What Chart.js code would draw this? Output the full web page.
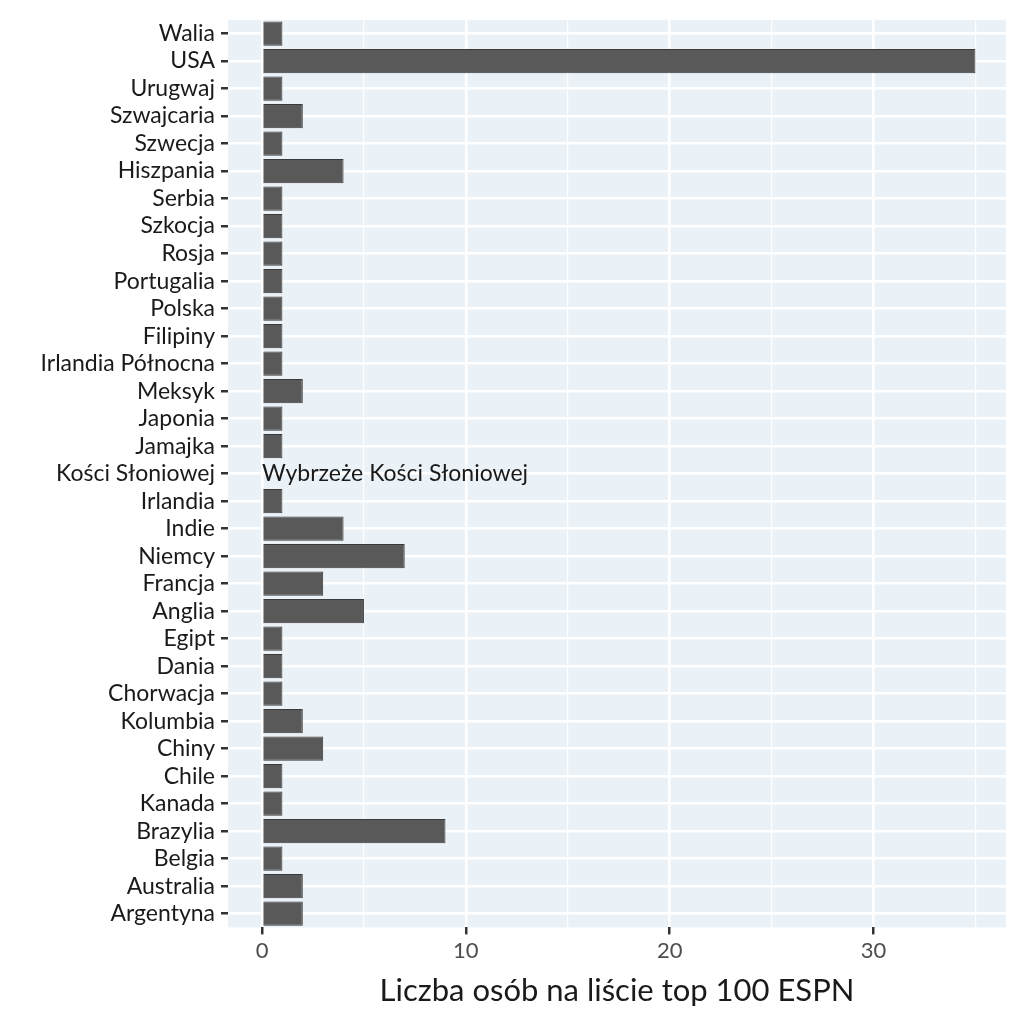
<!DOCTYPE html>
<html>
<head>
<meta charset="utf-8">
<script src="https://cdn.jsdelivr.net/npm/chart.js@4"></script>
<style>
  html, body { margin: 0; padding: 0; background: #fff; }
  #wrap { width: 1024px; height: 1024px; }
</style>
</head>
<body>
<div id="wrap"><canvas id="c"></canvas></div>
<script>
// Countries, top row first
const countries = ['Walia','USA','Urugwaj','Szwajcaria','Szwecja','Hiszpania','Serbia','Szkocja','Rosja','Portugalia','Polska','Filipiny','Irlandia Północna','Meksyk','Japonia','Jamajka','Kości Słoniowej','Irlandia','Indie','Niemcy','Francja','Anglia','Egipt','Dania','Chorwacja','Kolumbia','Chiny','Chile','Kanada','Brazylia','Belgia','Australia','Argentyna'];
const counts = [1,35,1,2,1,4,1,1,1,1,1,1,1,2,1,1,0,1,4,7,3,5,1,1,1,2,3,1,1,9,1,2,2];
const xTicks = [0,5,10,15,20,25,30,35];
const xLabels = {0:'0',10:'10',20:'20',30:'30'};
const noteRow = 'Kości Słoniowej';
const noteText = 'Wybrzeże Kości Słoniowej';

const bgPlugin = {
  id: 'panelBg',
  beforeDraw(chart) {
    const {ctx, chartArea: a} = chart;
    ctx.save();
    ctx.fillStyle = '#ebf2f7';
    ctx.fillRect(a.left, a.top, a.right - a.left, a.bottom - a.top);
    ctx.restore();
  },
  afterDatasetsDraw(chart) {
    const {ctx, scales} = chart;
    const y = scales.y.getPixelForValue(countries.indexOf(noteRow));
    ctx.save();
    ctx.font = '23px Lato';
    ctx.fillStyle = '#1a1a1a';
    ctx.textBaseline = 'middle';
    ctx.fillText(noteText, scales.x.getPixelForValue(0), y);
    ctx.restore();
  }
};

new Chart(document.getElementById('c'), {
  type: 'bar',
  data: {
    labels: countries,
    datasets: [{
      data: counts,
      backgroundColor: '#595959',
      borderColor: '#3a3a3a',
      borderWidth: 1,
      barPercentage: 0.88,
      categoryPercentage: 1
    }]
  },
  plugins: [bgPlugin],
  options: {
    indexAxis: 'y',
    responsive: true,
    maintainAspectRatio: false,
    animation: false,
    layout: { padding: { top: 15, right: 18, left: 0, bottom: 10 } },
    plugins: { legend: { display: false }, tooltip: { enabled: false } },
    scales: {
      x: {
        min: -1.67,
        max: 36.5,
        afterBuildTicks(s) { s.ticks = xTicks.map(v => ({ value: v })); },
        border: { display: false },
        grid: {
          color: '#ffffff',
          lineWidth: c => (c.tick && xLabels[c.tick.value] !== undefined) ? 2.5 : 1.2,
          tickColor: c => (c.tick && xLabels[c.tick.value] !== undefined) ? '#333' : 'rgba(0,0,0,0)',
          tickLength: 7,
          drawOnChartArea: true
        },
        ticks: {
          callback: v => xLabels[v] !== undefined ? xLabels[v] : '',
          color: '#4d4d4d',
          font: { family: 'Lato', size: 22 },
          maxRotation: 0,
          autoSkip: false
        },
        title: {
          display: true,
          text: 'Liczba osób na liście top 100 ESPN',
          color: '#1a1a1a',
          font: { family: 'Lato', size: 31 },
          padding: { top: 6 }
        }
      },
      y: {
        afterFit(s) { s.width = 228; },
        border: { display: false },
        grid: {
          offset: false,
          color: '#ffffff',
          lineWidth: 2.5,
          tickColor: '#333',
          tickLength: 7
        },
        ticks: {
          color: '#1a1a1a',
          font: { family: 'Lato', size: 23 },
          autoSkip: false,
          padding: 6
        }
      }
    }
  }
});
</script>
</body>
</html>
